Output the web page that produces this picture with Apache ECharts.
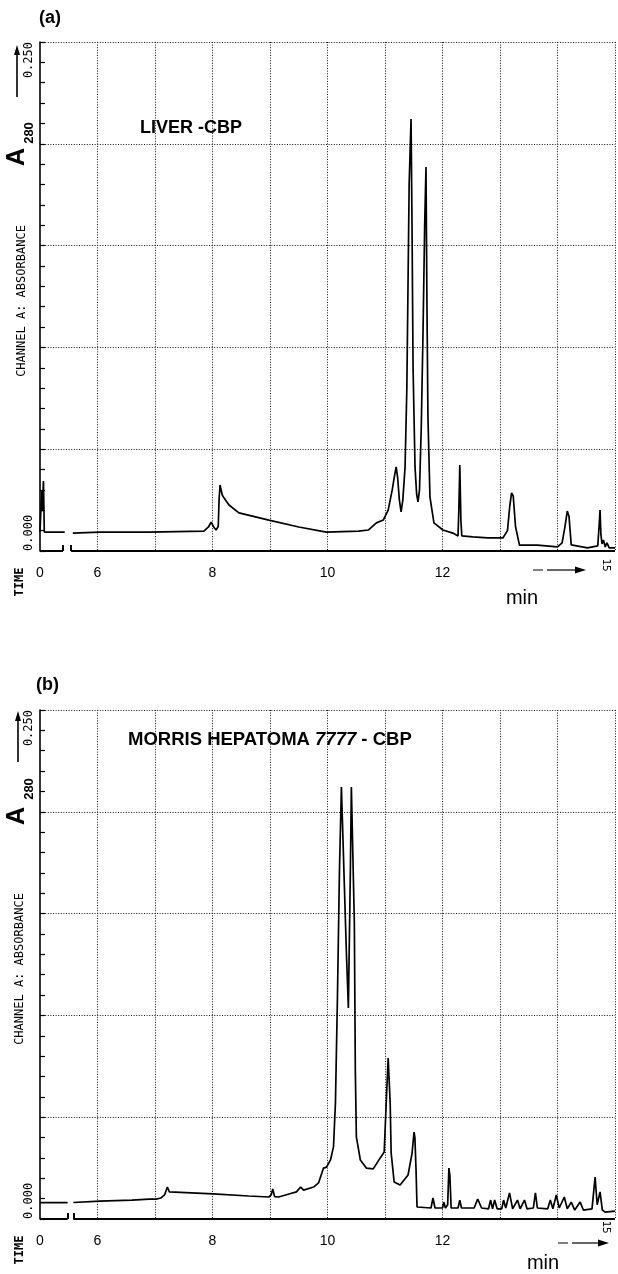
<!DOCTYPE html>
<html>
<head>
<meta charset="utf-8">
<script src="https://cdn.jsdelivr.net/npm/echarts@6/dist/echarts.min.js"></script>
<style>
html,body{margin:0;padding:0;background:#fff;}
#c{width:618px;height:1274px;}
</style>
</head>
<body>
<div id="c"></div>
<script>
// ---- tick labels / texts ----
const xTickValues = [5, 6, 8, 10, 12];
const xTickTexts  = ['0', '6', '8', '10', '12'];
const xEndTick = 15;
const xEndText = '15';
const yTickTexts = ['0.000', '0.250'];
const panelLabels = ['(a)', '(b)'];
const titleA = 'LIVER -CBP';
const titleB = ['MORRIS HEPATOMA ', '7777', ' - CBP'];
const yAxisName = ['A', '280'];
const channelText = 'CHANNEL A: ABSORBANCE';
const timeText = 'TIME';
const unitText = 'min';

// ---- broken time axis (axis units; 5 is the "0" position) ----
const axisBreakA = [5.40, 5.54];
const axisBreakB = [5.48, 5.58];

// ---- panel (a): liver CBP ----
const timeA = [
  5.00, 5.03, 5.04, 5.06, 5.075, 5.10, 5.43, 5.50,
  5.57, 6.04, 6.90, 7.85, 7.93, 7.976, 8.02, 8.062, 8.10, 8.114,
  8.131, 8.15, 8.17, 8.201, 8.287, 8.46, 8.98, 9.50, 9.98, 10.54,
  10.71, 10.85, 10.97, 11.055, 11.125, 11.16, 11.194, 11.22, 11.25, 11.28,
  11.31, 11.349, 11.38, 11.40, 11.42, 11.453, 11.47, 11.488, 11.522, 11.55,
  11.574, 11.60, 11.63, 11.661, 11.69, 11.713, 11.73, 11.747, 11.782, 11.851,
  12.007, 12.18, 12.27, 12.284, 12.301, 12.32, 12.336, 12.526, 12.785, 13.05,
  13.13, 13.17, 13.201, 13.23, 13.27, 13.339, 13.65, 14.0, 14.08, 14.13,
  14.17, 14.20, 14.239, 14.52, 14.70, 14.723, 14.74, 14.755, 14.775, 14.80,
  14.83, 14.86, 14.90, 15.0
];
const absA = [
  0.0093, 0.030, 0.0196, 0.0344, 0.0093, 0.0098, 0.0093, null,
  0.0088, 0.0093, 0.0093, 0.0098, 0.0118, 0.0142, 0.0118, 0.0103, 0.012, 0.025,
  0.0324, 0.030, 0.0275, 0.026, 0.0226, 0.0187, 0.0152, 0.0118, 0.0093, 0.0098,
  0.0103, 0.0138, 0.0152, 0.0201, 0.0299, 0.036, 0.0413, 0.036, 0.025, 0.0192,
  0.025, 0.0413, 0.08, 0.13, 0.18, 0.2122, 0.16, 0.0904, 0.0413, 0.028,
  0.0241, 0.030, 0.06, 0.1071, 0.16, 0.1886, 0.12, 0.0658, 0.0265, 0.0138,
  0.0103, 0.0088, 0.0074, 0.02, 0.0422, 0.015, 0.0074, 0.0069, 0.0064, 0.0064,
  0.010, 0.022, 0.0285, 0.027, 0.012, 0.0029, 0.0029, 0.0020, 0.004, 0.012,
  0.0196, 0.017, 0.003, 0.0015, 0.0025, 0.012, 0.0201, 0.008, 0.0035, 0.0054,
  0.002, 0.004, 0.0015, 0.0015
];

// ---- panel (b): Morris hepatoma 7777 CBP ----
const timeB = [
  5.00, 5.48, 5.53, 5.58, 6.04, 6.60, 6.90, 7.02, 7.10, 7.17,
  7.215, 7.25, 7.284, 8.01, 8.63, 8.98, 9.02, 9.048, 9.08, 9.15,
  9.33, 9.46, 9.533, 9.585, 9.758, 9.844, 9.931, 9.983, 10.052, 10.104,
  10.138, 10.173, 10.208, 10.242, 10.26, 10.294, 10.329, 10.363, 10.398, 10.415,
  10.433, 10.467, 10.484, 10.502, 10.571, 10.675, 10.796, 10.917, 10.986, 11.021,
  11.055, 11.07, 11.09, 11.107, 11.159, 11.263, 11.401, 11.471, 11.505, 11.52,
  11.54, 11.557, 11.80, 11.834, 11.87, 12.0, 12.024, 12.05, 12.09, 12.111,
  12.128, 12.15, 12.27, 12.301, 12.33, 12.55, 12.612, 12.68, 12.80, 12.837,
  12.87, 12.907, 12.95, 13.03, 13.062, 13.10, 13.166, 13.22, 13.304, 13.35,
  13.426, 13.47, 13.58, 13.616, 13.65, 13.83, 13.875, 13.92, 13.979, 14.03,
  14.118, 14.17, 14.239, 14.30, 14.394, 14.45, 14.60, 14.654, 14.69, 14.74,
  14.78, 14.827, 15.0
];
const absB = [
  0.0080, 0.0080, null, 0.0081, 0.0088, 0.0093, 0.0098, 0.0098, 0.0103, 0.0120,
  0.0157, 0.0133, 0.0128, 0.0123, 0.0113, 0.0108, 0.0118, 0.0147, 0.0110, 0.0108,
  0.0123, 0.0133, 0.0157, 0.0142, 0.0157, 0.0177, 0.0250, 0.0255, 0.0290, 0.0354,
  0.0570, 0.1090, 0.1714, 0.2122, 0.2122, 0.1631, 0.1306, 0.1036, 0.1714, 0.2122,
  0.2122, 0.1454, 0.0732, 0.0403, 0.0290, 0.0250, 0.0246, 0.0300, 0.0329, 0.0570,
  0.0791, 0.0791, 0.0570, 0.0324, 0.0182, 0.0167, 0.0216, 0.0324, 0.0427, 0.0400,
  0.0240, 0.0059, 0.0054, 0.0103, 0.0054, 0.0054, 0.0083, 0.0054, 0.0070, 0.0250,
  0.0215, 0.0054, 0.0054, 0.0093, 0.0054, 0.0054, 0.0098, 0.0054, 0.0050, 0.0093,
  0.0050, 0.0093, 0.0050, 0.0050, 0.0093, 0.0054, 0.0128, 0.0050, 0.0093, 0.0050,
  0.0093, 0.0050, 0.0054, 0.0128, 0.0054, 0.0050, 0.0093, 0.0050, 0.0118, 0.0054,
  0.0108, 0.0050, 0.0083, 0.0044, 0.0083, 0.0044, 0.0050, 0.0206, 0.0070, 0.0133,
  0.0044, 0.0034, 0.0039
];

// ---------------------------------------------------------------
const toPairs = (t, v) => t.map((x, i) => [x, v[i] === null ? '-' : v[i]]);
const FONT = '"Liberation Sans", Arial, sans-serif';
const MONO = '"DejaVu Sans Mono", "Liberation Mono", monospace';
const GRID_LINE = { color: '#111', width: 1, type: [1, 1.6] };

function xAxisFor(g) {
  return {
    type: 'value', gridIndex: g, min: 5, max: 15, interval: 1,
    axisLine: { show: false }, axisTick: { show: false },
    axisLabel: {
      show: true, margin: 15, color: '#000', fontSize: 14, fontFamily: FONT,
      hideOverlap: false,
      formatter: v => { const i = xTickValues.indexOf(Math.round(v * 1000) / 1000); return i >= 0 ? xTickTexts[i] : ''; }
    },
    splitLine: { show: true, showMinLine: false, showMaxLine: true, lineStyle: GRID_LINE }
  };
}
function yMain(g) {
  return {
    type: 'value', gridIndex: g, min: 0, max: 0.25, interval: 0.05, position: 'left',
    axisLine: { show: true, onZero: false, lineStyle: { color: '#000', width: 1.6 } },
    axisTick: { show: true, inside: true, length: 5, lineStyle: { color: '#000', width: 1.2 } },
    minorTick: { show: true, splitNumber: 5, length: 5, lineStyle: { color: '#000', width: 1.2 } },
    axisLabel: {
      show: true, rotate: 90, margin: 5, align: 'left', verticalAlign: 'bottom',
      color: '#000', fontSize: 12, fontFamily: MONO, hideOverlap: false,
      formatter: v => Math.abs(v) < 1e-9 ? yTickTexts[0] : ''
    },
    splitLine: { show: true, showMinLine: false, showMaxLine: true, lineStyle: GRID_LINE }
  };
}
function ySecond(g) {
  return {
    type: 'value', gridIndex: g, min: 0, max: 0.25, interval: 0.05, position: 'left', offset: 0,
    axisLine: { show: false }, axisTick: { show: false }, splitLine: { show: false },
    axisLabel: {
      show: true, rotate: 90, margin: 5, align: 'right', verticalAlign: 'bottom',
      color: '#000', fontSize: 12, fontFamily: MONO, hideOverlap: false,
      formatter: v => Math.abs(v - 0.25) < 1e-9 ? yTickTexts[1] : ''
    }
  };
}
function breakLines(brk) {
  return {
    symbol: ['none', 'none'], silent: true, animation: false,
    label: { show: false },
    lineStyle: { color: '#000', width: 2, type: 'solid' },
    data: [
      [{ coord: [5, 0] }, { coord: [brk[0], 0] }],
      [{ coord: [brk[1], 0] }, { coord: [15, 0] }],
      [{ coord: [brk[0], 0] }, { coord: [brk[0], 0.003] }],
      [{ coord: [brk[1], 0] }, { coord: [brk[1], 0.003] }]
    ]
  };
}
function traceSeries(g, data, brk) {
  return {
    type: 'line', xAxisIndex: g, yAxisIndex: g * 2, data: data,
    symbol: 'none', showSymbol: false, connectNulls: false, clip: false,
    lineStyle: { color: '#000', width: 1.7 }, animation: false, silent: true,
    markLine: breakLines(brk)
  };
}

const chart = echarts.init(document.getElementById('c'), null, { renderer: 'canvas' });
const option = {
  backgroundColor: '#fff',
  animation: false,
  textStyle: { fontFamily: FONT, color: '#000' },
  grid: [
    { left: 40, top: 42, width: 577, height: 509, containLabel: false },
    { left: 40, top: 710, width: 577, height: 509, containLabel: false }
  ],
  xAxis: [xAxisFor(0), xAxisFor(1)],
  yAxis: [yMain(0), ySecond(0), yMain(1), ySecond(1)],
  series: [
    traceSeries(0, toPairs(timeA, absA), axisBreakA),
    traceSeries(1, toPairs(timeB, absB), axisBreakB)
  ]
};
chart.setOption(option);

// ---- decorations (texts, arrows) ----
function txt(x, y, text, font, rot, align) {
  return { type: 'text', x: x, y: y, rotation: rot || 0, silent: true,
    style: { text: text, font: font, fill: '#000', align: align || 'center', verticalAlign: 'middle' } };
}
function arrowUp(x, yBottom, yTop) {
  return [
    { type: 'line', silent: true, shape: { x1: x, y1: yBottom, x2: x, y2: yTop + 8 }, style: { stroke: '#000', lineWidth: 1.6 } },
    { type: 'polygon', silent: true, shape: { points: [[x, yTop], [x - 3, yTop + 10], [x + 3, yTop + 10]] }, style: { fill: '#000' } }
  ];
}
function arrowRight(xLeft, xRight, y) {
  return [
    { type: 'line', silent: true, shape: { x1: xLeft, y1: y, x2: xLeft + 10, y2: y }, style: { stroke: '#000', lineWidth: 1 } },
    { type: 'line', silent: true, shape: { x1: xLeft + 14, y1: y, x2: xRight - 8, y2: y }, style: { stroke: '#000', lineWidth: 1.2 } },
    { type: 'polygon', silent: true, shape: { points: [[xRight, y], [xRight - 11, y - 3.5], [xRight - 11, y + 3.5]] }, style: { fill: '#000' } }
  ];
}
const P = Math.PI / 2;
function decor(g, d) {
  const end = chart.convertToPixel({ gridIndex: g }, [xEndTick, 0]);
  return [
    txt(d.labX, d.labY, panelLabels[g], 'bold 18px ' + FONT, 0, 'left'),
    d.title,
    ...arrowUp(d.arrX, d.arrBot, d.arrTop),
    txt(d.aX, d.aY, yAxisName[0], 'bold 25px ' + FONT, P),
    txt(d.sX, d.sY, yAxisName[1], 'bold 13px ' + FONT, P),
    txt(d.chX, d.chY, channelText, '12px ' + MONO, P),
    txt(d.tX, d.tY, timeText, 'bold 12px ' + MONO, P),
    txt(d.mX, d.mY, unitText, '20px ' + FONT, 0),
    ...arrowRight(d.raL, d.raR, d.raY),
    txt(end[0] - 9, end[1] + d.endDy, xEndText, '11px ' + MONO, -P)
  ];
}
const titleAEl = txt(140, 128, titleA, 'bold 18px ' + FONT, 0, 'left');
const titleBEl = { type: 'text', x: 128, y: 740, silent: true,
  style: { text: '{b|' + titleB[0] + '}{i|' + titleB[1] + '}{b|' + titleB[2] + '}', align: 'left', verticalAlign: 'middle',
    rich: { b: { font: 'bold 18.5px ' + FONT, fill: '#000' }, i: { font: 'italic bold 18.5px ' + FONT, fill: '#000' } } } };

const elements = [].concat(
  decor(0, { labX: 39, labY: 18, title: titleAEl, arrX: 17, arrBot: 97, arrTop: 45,
    aX: 17, aY: 157, sX: 29, sY: 133, chX: 22, chY: 301, tX: 20, tY: 582,
    mX: 522, mY: 598, raL: 533, raR: 586, raY: 570, endDy: 14 }),
  decor(1, { labX: 36, labY: 685, title: titleBEl, arrX: 18, arrBot: 762, arrTop: 711,
    aX: 17, aY: 816, sX: 29, sY: 789, chX: 20, chY: 969, tX: 20, tY: 1250,
    mX: 543, mY: 1263, raL: 558, raR: 609, raY: 1243, endDy: 8 })
);
chart.setOption({ graphic: { elements: elements } });
</script>
</body>
</html>
